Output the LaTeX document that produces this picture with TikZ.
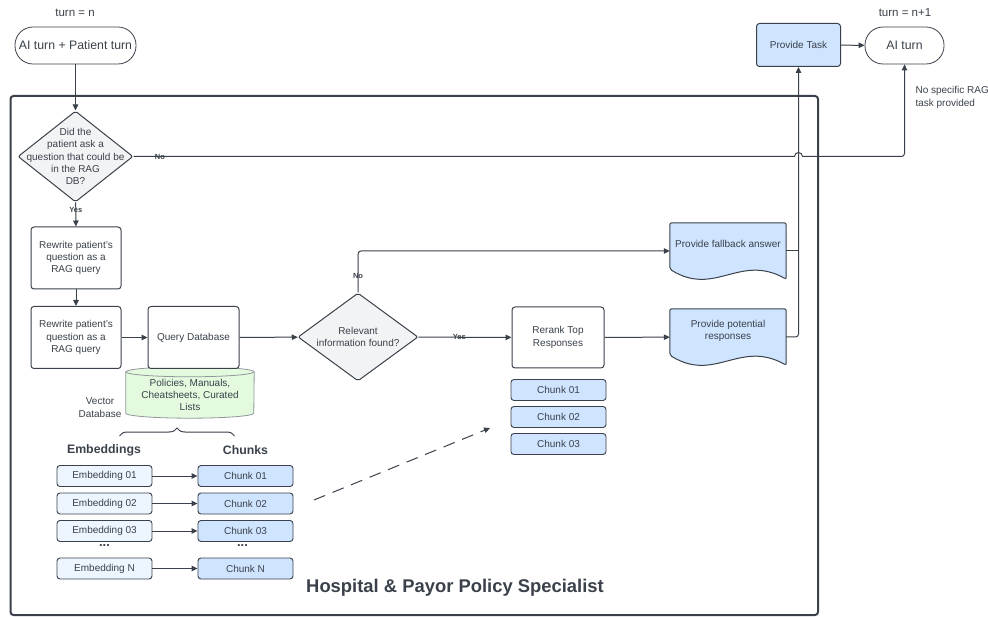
\documentclass[tikz,border=0pt]{standalone}
\usepackage{fontspec}
\setmainfont{Liberation Sans}
\usetikzlibrary{shapes.geometric, arrows.meta, decorations.pathreplacing, backgrounds}

\definecolor{ink}{HTML}{3A414A}
\definecolor{blueish}{HTML}{CFE4FF}
\definecolor{paleblue}{HTML}{EDF5FF}
\definecolor{palegray}{HTML}{F2F3F5}
\definecolor{palegreen}{HTML}{E3FADF}

% wavy "document" outline drawn behind a node
\newcommand{\docpath}[1]{%
  \begin{pgfonlayer}{background}
  \filldraw[draw=ink, line width=1pt, fill=blueish, rounded corners=2pt]
    (#1.north east) -- (#1.north west) -- ([yshift=10pt]#1.south west)
    .. controls ([xshift=45pt,yshift=-18pt]#1.south west) and ([xshift=70pt,yshift=26pt]#1.south west) .. (#1.south east) -- cycle;
  \end{pgfonlayer}}

\begin{document}
\begin{tikzpicture}[
   x=1pt, y=-1pt,
   node distance=27.5pt,
   font=\fontsize{10}{12.4}\selectfont,
   every node/.append style={text=ink},
   stadium/.style={draw=ink, line width=0.8pt, rounded corners=18pt, minimum height=37pt, font=\fontsize{12.3}{14}\selectfont},
   proc/.style={draw=ink, line width=1pt, rounded corners=3pt, fill=white, align=center, minimum width=90pt, minimum height=62pt},
   task/.style={proc, fill=blueish, minimum width=84pt, minimum height=43pt},
   decision/.style={diamond, draw=ink, line width=1pt, fill=palegray, inner sep=0pt, rounded corners=2pt},
   dtext/.style={align=center},
   doc/.style={align=center, minimum width=116pt, minimum height=56pt, text depth=14pt},
   embed/.style={draw=ink, line width=0.9pt, rounded corners=3pt, fill=paleblue, minimum width=95pt, minimum height=21pt, inner sep=1pt},
   chunk/.style={embed, fill=blueish},
   head/.style={font=\fontsize{12.3}{14}\selectfont\bfseries},
   dots/.style={font=\fontsize{13}{14}\selectfont\bfseries},
   lbl/.style={font=\fontsize{7.5}{9}\selectfont\bfseries, inner sep=1pt},
   arrow/.style={-{Triangle[length=6pt, width=5.5pt]}, line width=1pt, draw=ink},
   link/.style={line width=1pt, draw=ink},
   frame/.style={draw=ink, line width=2pt, rounded corners=3pt}
]
\useasboundingbox (0,0) rectangle (988,617);

% Frame
\draw[frame] (10.5,96) rectangle (818,615);
\node[font=\fontsize{18.4}{22}\selectfont\bfseries] (title) at (455,588) {Hospital \& Payor Policy Specialist};

% Turns
\node[font=\fontsize{11.5}{14}\selectfont] (turnn) at (75,13) {turn = n};
\node[stadium, minimum width=121pt] (start) at (75.5,45.5) {AI turn + Patient turn};
\node[font=\fontsize{11.5}{14}\selectfont] (turnnext) at (905,13) {turn = n+1};
\node[stadium, minimum width=79pt] (aiturn) at (904.5,45.5) {AI turn};
\node[task] (task) at (798.5,45) {Provide Task};
\node[align=left, anchor=west] (nospec) at (912,97.5) {No specific RAG\\task provided};

% Left column
\node[decision, minimum width=115pt, minimum height=91pt] (q1) at (75.5,156.5) {};
\node[dtext] (q1text) at (q1) {Did the\\patient ask a\\question that could be\\in the RAG\\DB?};
\node[proc] (rw1) at (76,258) {Rewrite patient's\\question as a\\RAG query};
\node[proc] (rw2) at (76,337.5) {Rewrite patient's\\question as a\\RAG query};

% Vector database
\node[minimum width=128pt, minimum height=46pt, align=center] (db) at (190,395) {Policies, Manuals,\\Cheatsheets, Curated\\Lists};
\begin{pgfonlayer}{background}
\filldraw[draw=ink!55, line width=0.8pt, fill=palegreen]
  (db.north west) -- ([yshift=5pt]db.south west)
  arc[start angle=180, end angle=360, x radius=64pt, y radius=5pt]
  -- (db.north east) arc[start angle=0, end angle=180, x radius=64pt, y radius=5pt] -- cycle;
\draw[draw=ink!55, line width=0.8pt] (db.north west) arc[start angle=180, end angle=360, x radius=64pt, y radius=5pt];
\end{pgfonlayer}
\node[proc, minimum width=91pt] (query) at (193.5,337.5) {Query Database};
\node[align=center] (vdb) at (100,407.5) {Vector\\Database};
\draw[link, decorate, decoration={brace, amplitude=8pt}] (119.5,436) -- (234.5,436);

% Embeddings and chunks
\node[head] (embhead) at (104,450) {Embeddings};
\node[head] (chunkhead) at (245.5,450) {Chunks};
\node[embed] (e1) at (104.5,476) {Embedding 01};
\node[embed] (e2) [below of=e1] {Embedding 02};
\node[embed] (e3) [below of=e2] {Embedding 03};
\node[dots] (edots) at (104.5,546) {...};
\node[embed] (en) at (104.5,568.5) {Embedding N};
\node[chunk] (c1) [right of=e1, node distance=141pt] {Chunk 01};
\node[chunk] (c2) [right of=e2, node distance=141pt] {Chunk 02};
\node[chunk] (c3) [right of=e3, node distance=141pt] {Chunk 03};
\node[dots] (cdots) [right of=edots, node distance=138pt] {...};
\node[chunk] (cn) [right of=en, node distance=141pt] {Chunk N};

% Middle and right
\node[decision, minimum width=120pt, minimum height=88pt] (q2) at (358,337) {};
\node[dtext] (q2text) at (q2) {Relevant\\information found?};
\node[proc, minimum width=92pt, minimum height=61pt] (rerank) at (558,337.5) {Rerank Top\\Responses};
\node[chunk] (rc1) at (558.5,390) {Chunk 01};
\node[chunk] (rc2) [below of=rc1, node distance=27pt] {Chunk 02};
\node[chunk] (rc3) [below of=rc2, node distance=27pt] {Chunk 03};
\node[doc] (fb) at (728,251) {Provide fallback answer};
\docpath{fb}
\node[doc] (pr) at (728,337) {Provide potential\\responses};
\docpath{pr}
\coordinate (dashfrom) at (314,500);
\coordinate (dashto) at (490,428);

% Edges
\draw[arrow] (start) -- (q1);
\draw[arrow] (q1) -- node[lbl, pos=0.3] {Yes} (rw1);
\draw[arrow] (rw1) -- (rw2);
\draw[arrow] (rw2) -- (query);
\draw[arrow] (query) -- (q2);
\draw[arrow] (q2) -- node[lbl, pos=0.44] {Yes} (rerank);
\draw[arrow, rounded corners=3pt] (q2.north) -- node[lbl, pos=0.4] {No} (q2.north |- fb.west) -- (fb.west);
\draw[arrow] (rerank) -- (pr);
\draw[link, rounded corners=3pt] (fb.east) -- (fb.east -| task.south);
\draw[arrow, rounded corners=3pt] (pr.east) -- (pr.east -| task.south) -- (task.south);
\draw[arrow] (task) -- (aiturn);
\draw[arrow] (q1.east) -- node[lbl, pos=0.04] {No} ([xshift=-4pt]q1.east -| task.south)
  arc[start angle=180, end angle=0, radius=4pt] [rounded corners=3pt] -- (q1.east -| aiturn.south) -- (aiturn.south);
\foreach \i in {1,2,3,n} {
  \draw[arrow] (e\i) -- (c\i);
}
\draw[arrow, dash pattern=on 12pt off 8pt] (dashfrom) -- (dashto);

\end{tikzpicture}
\end{document}
